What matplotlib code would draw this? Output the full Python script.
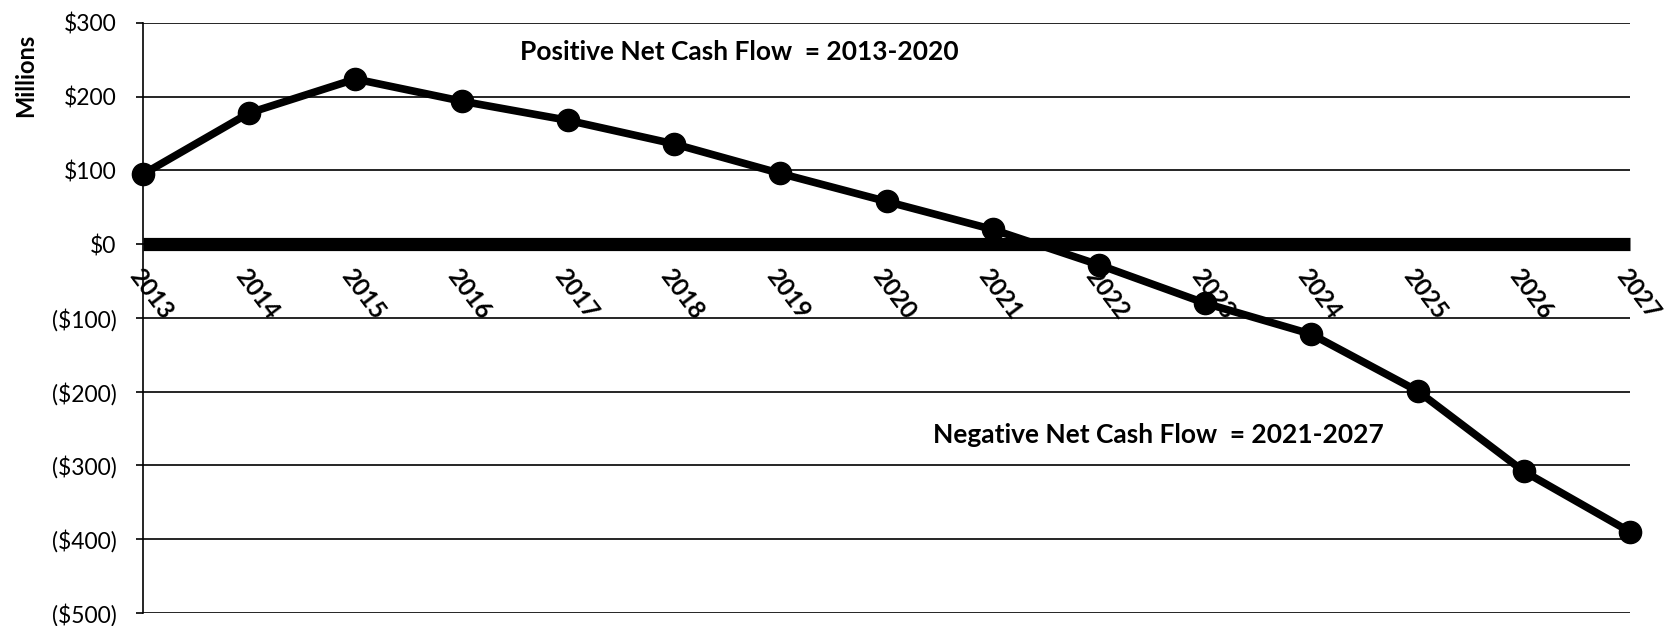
import numpy as np
import matplotlib.pyplot as plt
from matplotlib.ticker import FuncFormatter

# net cash flow by year, millions of dollars
years = [2013, 2014, 2015, 2016, 2017, 2018, 2019, 2020,
         2021, 2022, 2023, 2024, 2025, 2026, 2027]
cash_flow = [95, 178, 224, 194, 168, 136, 96, 58,
             20, -28, -80, -122, -199, -308, -390]
y_ticks = [300, 200, 100, 0, -100, -200, -300, -400, -500]

plt.rcParams['font.family'] = ['Lato', 'DejaVu Sans']

fig = plt.figure(figsize=(16.73, 6.26), dpi=100)
ax = fig.add_axes([0.0855, 0.0208, 0.9743 - 0.0855, 0.9633 - 0.0208])

ax.plot(years, cash_flow, color="black", lw=5.5, marker="o", markersize=16,
        zorder=5, clip_on=False)

ax.set_xlim(2013, 2027)
ax.set_ylim(-500, 300)

# horizontal axis sits on $0 as a heavy bar
ax.spines['bottom'].set_position(('data', 0))
ax.spines['bottom'].set_linewidth(9.5)
ax.spines['bottom'].set_capstyle('butt')
ax.spines['top'].set_visible(False)
ax.spines['right'].set_visible(False)
ax.spines['left'].set_linewidth(1.2)

ax.set_xticks(years)
ax.set_xticklabels([str(y) for y in years], fontsize=17.5, fontweight="bold")
ax.tick_params(axis="x", length=0, pad=15)
plt.setp(ax.get_xticklabels(), rotation=-53, ha="left", va="top",
         rotation_mode="anchor")

def dollars(v, pos):  # negatives shown in brackets
    if v < 0:
        return "(${:.0f})".format(-v)
    return "${:.0f}".format(v)

ax.set_yticks(y_ticks)
ax.yaxis.set_major_formatter(FuncFormatter(dollars))
ax.tick_params(axis="y", length=5, width=1.2, labelsize=16.5, pad=14)
ax.grid(axis="y", color="black", lw=1.2)
ax.set_axisbelow(True)

fig.text(0.0155, 0.88, "Millions", rotation=90, fontsize=17, fontweight="bold",
         ha="center", va="center")

ax.text(2018.61, 261, "Positive Net Cash Flow  = 2013-2020", fontsize=19,
        fontweight="bold", ha="center", va="center")
ax.text(2022.56, -258, "Negative Net Cash Flow  = 2021-2027", fontsize=19,
        fontweight="bold", ha="center", va="center")

plt.savefig("out.png", dpi=100)
